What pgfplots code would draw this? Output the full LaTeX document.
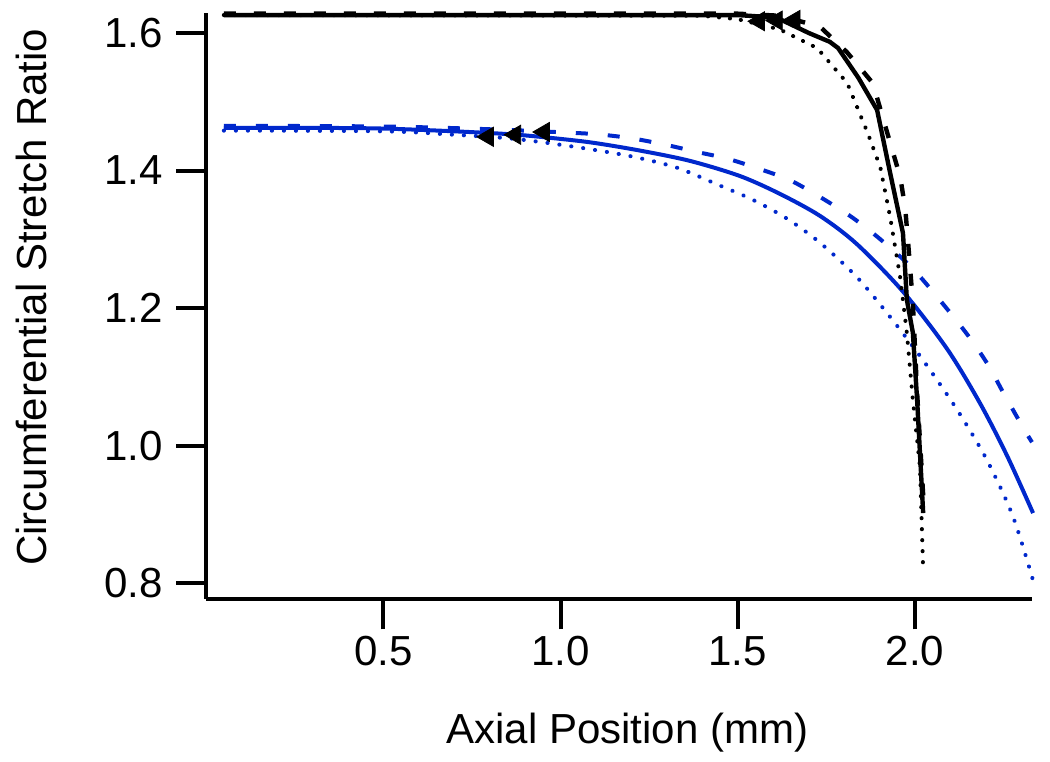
\documentclass[border=0pt]{standalone}
\usepackage{pgfplots}
\pgfplotsset{compat=1.18}
\usepackage{fontspec}
\setmainfont{Liberation Sans}
\definecolor{igorblue}{RGB}{0,40,204}

\begin{document}
\begin{tikzpicture}
\begin{axis}[
    scale only axis,
    width=412.8pt, height=293pt,
    xmin=0, xmax=2.33,
    ymin=0.7767, ymax=1.629,
    axis lines=left,
    axis line style={-, line width=2pt},
    tick align=outside,
    major tick length=15pt,
    major tick style={line width=2pt, black},
    xtick={0.5,1.0,1.5,2.0},
    ytick={0.8,1.0,1.2,1.4,1.6},
    tick label style={font=\fontsize{21}{25}\selectfont},
    yticklabel style={xshift=-3pt},
    /pgf/number format/fixed,
    /pgf/number format/fixed zerofill,
    /pgf/number format/precision=1,
    /pgf/number format/assume math mode=true,
    label style={font=\fontsize{21}{25}\selectfont},
    xlabel={Axial Position (mm)},
    ylabel={Circumferential Stretch Ratio},
    xlabel style={at={(rel axis cs:0.51,-0.2457)}, anchor=base},
    ylabel style={at={(rel axis cs:-0.1937,0.515)}, anchor=base},
    clip=false,
]
% page frame
\path (rel axis cs:-0.2495,-0.2765) rectangle (rel axis cs:1.0218,1.0222);

% blue: dotted, dashed, solid
\addplot[igorblue, smooth, line width=2pt, line cap=round, dash pattern=on 0.1pt off 5.9pt] coordinates {
(0.05,1.458) (0.5,1.457) (0.7,1.452) (0.85,1.447) (0.950,1.441) (1.083,1.431)
(1.205,1.420) (1.329,1.404) (1.450,1.378) (1.544,1.357) (1.639,1.330) (1.732,1.295)
(1.836,1.245) (1.930,1.187) (2.023,1.124) (2.119,1.052) (2.203,0.979) (2.277,0.896)
(2.333,0.804)};
\addplot[igorblue, smooth, line width=2pt, dash pattern=on 6pt off 10pt] coordinates {
(0.05,1.465) (0.5,1.464) (0.8,1.460) (1.026,1.455) (1.119,1.452) (1.210,1.446)
(1.300,1.437) (1.385,1.427) (1.472,1.417) (1.557,1.403) (1.647,1.386) (1.737,1.360)
(1.825,1.331) (1.909,1.297) (2.005,1.251) (2.135,1.170) (2.203,1.120) (2.248,1.078)
(2.304,1.027) (2.330,1.005)};
\addplot[igorblue, smooth, line width=2pt] coordinates {
(0.05,1.462) (0.3,1.462) (0.5,1.461) (0.7,1.457) (0.85,1.453) (0.942,1.449)
(1.083,1.441) (1.224,1.429) (1.365,1.414) (1.506,1.392) (1.619,1.366) (1.732,1.334)
(1.836,1.293) (1.966,1.224) (2.090,1.141) (2.183,1.062) (2.260,0.985) (2.333,0.902)};

% black: dotted, solid, dashed
\addplot[black, line width=2pt, line cap=round, dash pattern=on 0.1pt off 5.4pt] coordinates {
(0.05,1.626) (1.40,1.625) (1.5,1.620) (1.619,1.605) (1.724,1.578) (1.809,1.527)
(1.866,1.455) (1.902,1.405) (1.930,1.332) (1.958,1.245) (1.977,1.164) (1.994,1.066)
(2.014,0.969) (2.023,0.819)};
\addplot[black, line width=2.2pt] coordinates {
(0.05,1.626) (1.5,1.626) (1.56,1.624) (1.619,1.620) (1.70,1.600) (1.760,1.587)
(1.783,1.578) (1.84,1.535) (1.893,1.488) (1.930,1.396) (1.966,1.309) (1.977,1.212)
(1.994,1.164) (2.006,1.066) (2.023,0.902)};
\addplot[black, line width=2.2pt, dash pattern=on 6pt off 9pt] coordinates {
(0.05,1.628) (1.5,1.628) (1.62,1.625) (1.732,1.609) (1.808,1.572) (1.881,1.527)
(1.930,1.440) (1.958,1.391) (1.972,1.347) (1.980,1.299) (1.994,1.207) (2.006,1.076)
(2.025,0.911)};

% triangle markers
\addplot[only marks, mark=triangle*, mark size=5.5pt, mark options={rotate=90, fill=black, draw=black}] coordinates {
(0.795,1.449) (0.872,1.452) (0.953,1.456)};
\addplot[only marks, mark=triangle*, mark size=5.5pt, mark options={rotate=90, fill=black, draw=black}] coordinates {
(1.560,1.617) (1.610,1.618) (1.660,1.619)};
\end{axis}
\end{tikzpicture}
\end{document}
